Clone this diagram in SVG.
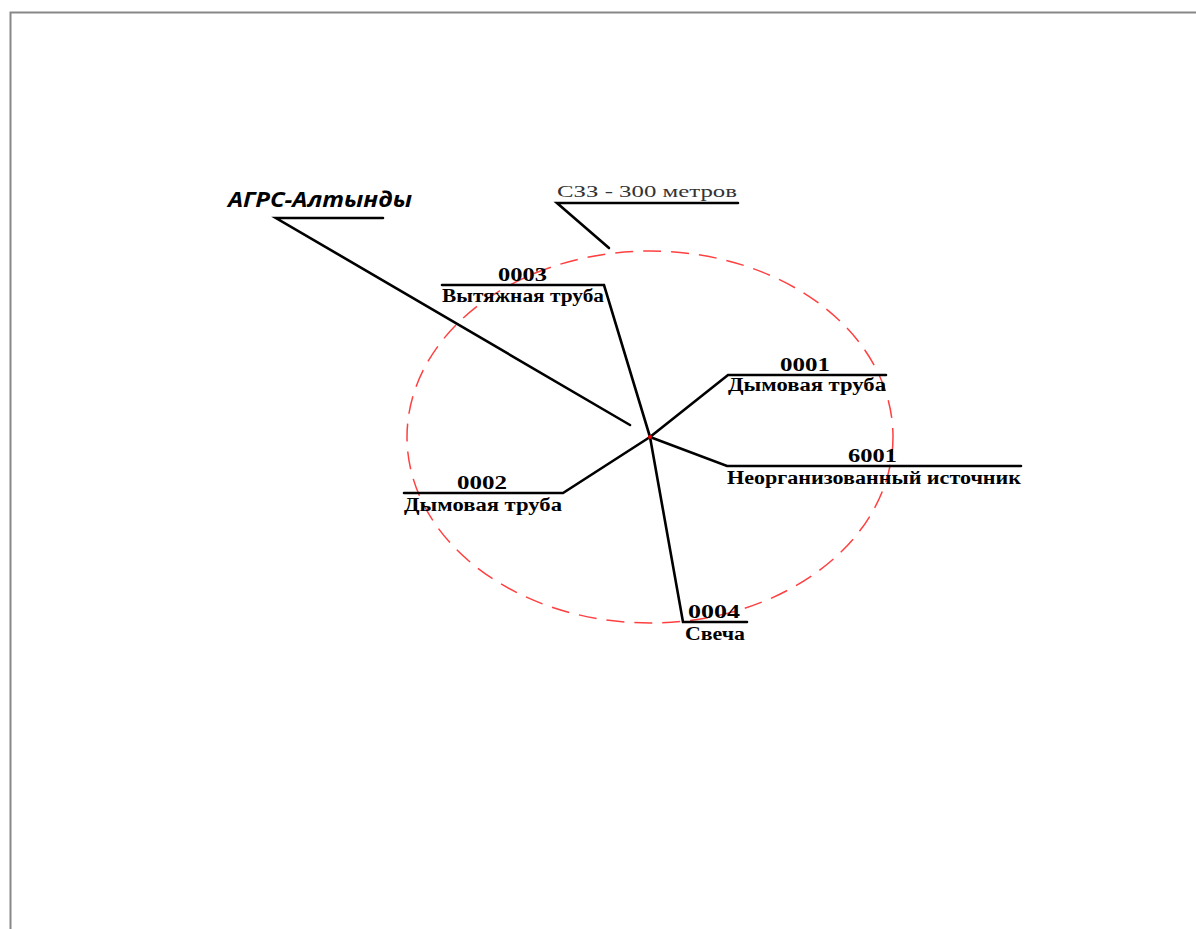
<svg xmlns="http://www.w3.org/2000/svg" width="1196" height="929" viewBox="0 0 1196 929">
<style>
.ln{stroke:#000;stroke-width:2.6;fill:none;stroke-linecap:round}
.lbl{font-family:"Liberation Serif","Times New Roman",serif;font-weight:bold;font-size:18px;fill:#000}
.num{font-family:"Liberation Serif","Times New Roman",serif;font-weight:bold;font-size:19px;fill:#000}
</style>
<rect width="1196" height="929" fill="#fff"/>
<path d="M10.5 929 V12.5 H1196" fill="none" stroke="#888" stroke-width="2"/>
<g id="zone">
<ellipse cx="650" cy="437" rx="243" ry="186" fill="none" stroke="#ff4040" stroke-width="1.5" stroke-dasharray="18 10"/>
</g>
<g id="connectors">
<polyline class="ln" points="383,218 276,218 630,425"/>
<polyline class="ln" points="738,203 557,203 609,248"/>
<polyline class="ln" points="442,285 604,285 650,437"/>
<polyline class="ln" points="650,437 728,375 886,375"/>
<polyline class="ln" points="650,437 727,466 1021,466"/>
<polyline class="ln" points="650,437 563,493 404,493"/>
<polyline class="ln" points="650,437 683,622 747,622"/>
<circle cx="650" cy="437" r="2" fill="#e00"/>
</g>
<g id="agrs">
<text x="228" y="207" font-family="'Open Sans','DejaVu Sans',sans-serif" font-weight="bold" font-style="italic" font-size="21" textLength="184" lengthAdjust="spacingAndGlyphs">АГРС-Алтынды</text>
</g>
<g id="szz">
<text x="557" y="197" font-family="'Liberation Serif','Times New Roman',serif" font-size="17" fill="#333" textLength="180" lengthAdjust="spacingAndGlyphs">СЗЗ - 300 метров</text>
</g>
<g id="src0003">
<text class="num" x="498" y="281" textLength="49" lengthAdjust="spacingAndGlyphs">0003</text>
<text class="lbl" x="442" y="302" textLength="162" lengthAdjust="spacingAndGlyphs">Вытяжная труба</text>
</g>
<g id="src0001">
<text class="num" x="780" y="371" textLength="50" lengthAdjust="spacingAndGlyphs">0001</text>
<text class="lbl" x="728" y="391" textLength="158" lengthAdjust="spacingAndGlyphs">Дымовая труба</text>
</g>
<g id="src6001">
<text class="num" x="848" y="462" textLength="49" lengthAdjust="spacingAndGlyphs">6001</text>
<text class="lbl" x="727" y="484" textLength="294" lengthAdjust="spacingAndGlyphs">Неорганизованный источник</text>
</g>
<g id="src0002">
<text class="num" x="457" y="489" textLength="50" lengthAdjust="spacingAndGlyphs">0002</text>
<text class="lbl" x="404" y="511" textLength="158" lengthAdjust="spacingAndGlyphs">Дымовая труба</text>
</g>
<g id="src0004">
<text class="num" x="688" y="618" textLength="52" lengthAdjust="spacingAndGlyphs">0004</text>
<text class="lbl" x="685" y="640" textLength="60" lengthAdjust="spacingAndGlyphs">Свеча</text>
</g>
</svg>
